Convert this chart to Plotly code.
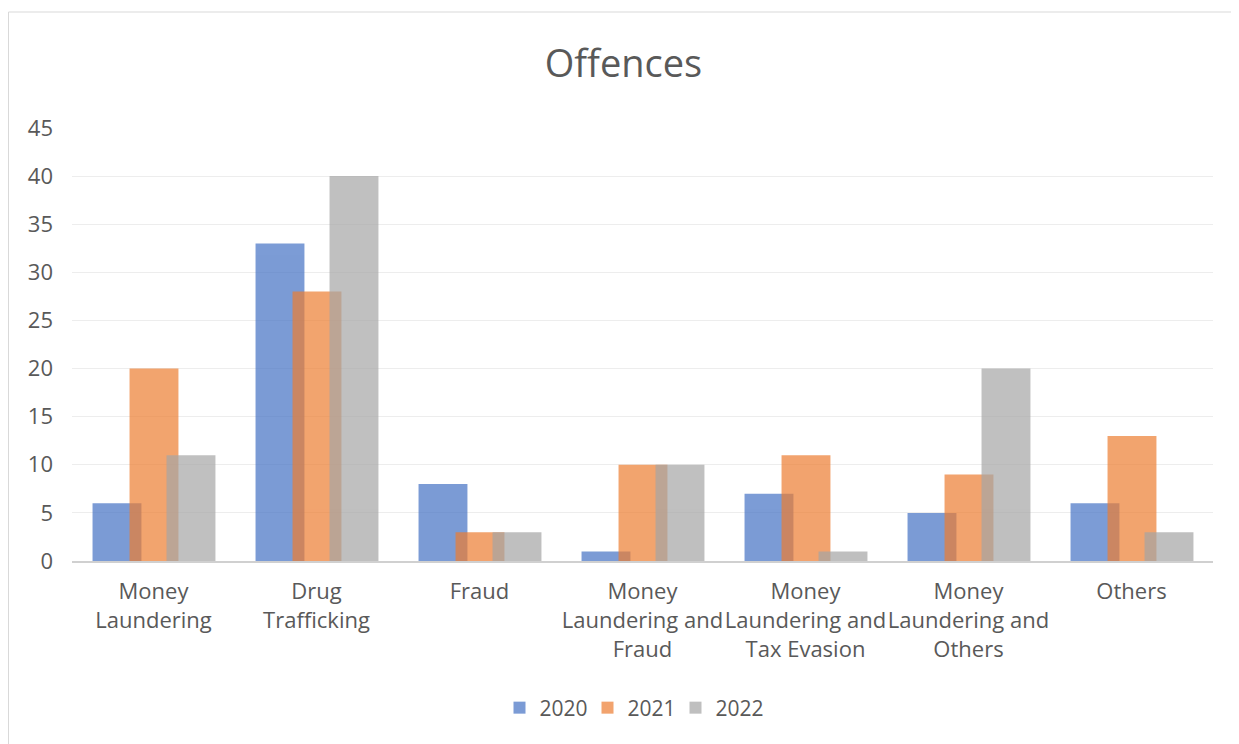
import plotly.graph_objects as go

categories = ["Money<br>Laundering", "Drug<br>Trafficking", "Fraud",
              "Money<br>Laundering and<br>Fraud", "Money<br>Laundering and<br>Tax Evasion",
              "Money<br>Laundering and<br>Others", "Others"]
v2020 = [6, 33, 8, 1, 7, 5, 6]
v2021 = [20, 28, 3, 10, 11, 9, 13]
v2022 = [11, 40, 3, 10, 1, 20, 3]
y_ticks = [0, 5, 10, 15, 20, 25, 30, 35, 40, 45]

FONT = "Open Sans"
TXT = "#595959"

series = [("2020", v2020, "#4472C4", -0.374),
          ("2021", v2021, "#ED7D31", -0.147),
          ("2022", v2022, "#A5A5A5", 0.08)]

fig = go.Figure()
for name, vals, col, off in series:
    fig.add_trace(go.Bar(x=categories, y=vals, name=name, marker_color=col,
                         opacity=0.7, width=0.30, offset=off,
                         marker_line_width=0))

# page has an 8px body margin: figure is drawn 8px right/down
W, H = 1231, 736
L, T, R, B = 64, 120, 26, 183
pw, ph = W - L - R, H - T - B

fig.update_layout(
    barmode="overlay",
    width=W, height=H,
    paper_bgcolor="white", plot_bgcolor="white",
    margin=dict(l=L, r=R, t=T, b=B),
    title=dict(text="Offences", x=0.5, xanchor="center", y=1 - (64 - 8) / H, yanchor="middle",
               font=dict(family=FONT, size=38, color=TXT)),
    font=dict(family=FONT, color=TXT),
    showlegend=True,
    legend=dict(orientation="h", x=0.5 - 11 / pw, xanchor="center", y=-(708 - 561) / ph,
                yanchor="middle",
                font=dict(family=FONT, size=21, color=TXT), itemwidth=30,
                entrywidth=43, entrywidthmode="pixels",
                traceorder="normal"),
    xaxis=dict(showgrid=False, showline=True, linecolor="#D0D0D0", linewidth=2,
               tickfont=dict(family=FONT, size=22, color=TXT), ticks="",
               tickangle=0, ticklabelstandoff=10),
    yaxis=dict(range=[0, 45], tickvals=y_ticks, showgrid=True, gridcolor="#EDEDED",
               gridwidth=1, zeroline=False, showline=False, ticks="",
               ticklabelstandoff=18,
               tickfont=dict(family=FONT, size=22, color=TXT)),
    shapes=[dict(type="rect", xref="paper", yref="paper",
                 x0=(0.5 - L) / pw, x1=(W + 10 - L) / pw,
                 y0=-(H + 10 - T - ph) / ph, y1=1 + (T - 4) / ph,
                 line=dict(color="#D9D9D9", width=1), fillcolor="rgba(0,0,0,0)",
                 layer="below")],
)

fig.write_html("out.html")
